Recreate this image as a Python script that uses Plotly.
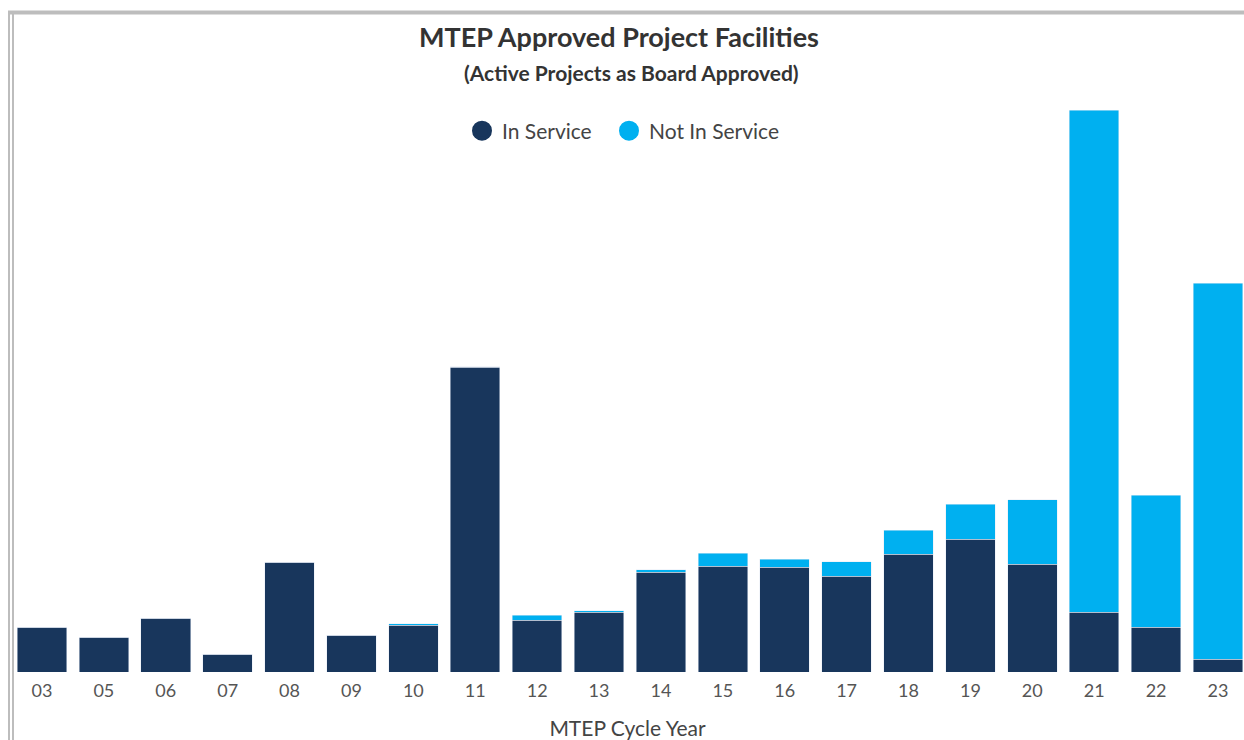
import plotly.graph_objects as go

years = ["03", "05", "06", "07", "08", "09", "10", "11", "12", "13",
         "14", "15", "16", "17", "18", "19", "20", "21", "22", "23"]
in_service = [45, 35, 54, 18, 110, 37, 47, 305, 52, 60,
              100, 106, 105, 96, 118, 133, 108, 60, 45, 13]
not_in_service = [0, 0, 0, 0, 0, 0, 1.5, 0.5, 4.7, 1.3,
                  2.4, 12.7, 8, 14.4, 23.7, 34.7, 64.3, 502, 131.7, 375.7]

DARK = "#18365C"
LIGHT = "#00B0F0"
FONT = "Lato"

W, H = 1244, 740
ML, MR, MT, MB = 11, 0, 100, 68
plot_w = W - ML - MR
plot_h = H - MT - MB


def px_x(px):
    return (px - ML) / plot_w


def px_y(py):
    return (H - MB - py) / plot_h


fig = go.Figure()
fig.add_trace(go.Bar(x=years, y=in_service, marker_color=DARK, name="In Service",
                     showlegend=False))
fig.add_trace(go.Bar(x=years, y=not_in_service, marker_color=LIGHT, name="Not In Service",
                     showlegend=False))
fig.add_trace(go.Scatter(x=[None], y=[None], mode="markers", name="In Service",
                         legend="legend",
                         marker=dict(symbol="circle", size=16, color=DARK,
                                     line=dict(color=DARK, width=4))))
fig.add_trace(go.Scatter(x=[None], y=[None], mode="markers", name="Not In Service",
                         legend="legend2",
                         marker=dict(symbol="circle", size=16, color=LIGHT,
                                     line=dict(color=LIGHT, width=4))))

legend_common = dict(orientation="h", xanchor="left", y=px_y(131), yanchor="middle",
                     font=dict(size=21, color="#444444"), itemsizing="trace",
                     bgcolor="rgba(0,0,0,0)")

fig.update_layout(
    width=W, height=H,
    barmode="stack", bargap=0.2,
    margin=dict(l=ML, r=MR, t=MT, b=MB, autoexpand=False),
    paper_bgcolor="white", plot_bgcolor="white",
    font=dict(family=FONT, color="#444444"),
    showlegend=True,
    legend=dict(x=px_x(462), **legend_common),
    legend2=dict(x=px_x(609), **legend_common),
    xaxis=dict(type="category", range=[-0.5, 19.42], showgrid=False, zeroline=False,
               showline=False, ticks="", automargin=False, ticklabelstandoff=6,
               tickfont=dict(size=18, color="#555555"),
               title=dict(text="MTEP Cycle Year", font=dict(size=21, color="#444444"),
                          standoff=26)),
    yaxis=dict(range=[0, plot_h], visible=False, showgrid=False, automargin=False),
    annotations=[
        dict(text="<b>MTEP Approved Project Facilities</b>", xref="paper", yref="paper",
             x=px_x(619), y=px_y(36), yanchor="middle", showarrow=False,
             font=dict(size=27, color="#333333", family=FONT)),
        dict(text="<b>(Active Projects as Board Approved)</b>", xref="paper", yref="paper",
             x=px_x(631), y=px_y(73), yanchor="middle", showarrow=False,
             font=dict(size=21, color="#333333", family=FONT)),
    ],
)
fig.add_shape(type="line", xref="paper", yref="paper", x0=px_x(8), x1=px_x(1244),
              y0=px_y(12.5), y1=px_y(12.5), line=dict(color="#BDBDBD", width=4))
fig.add_shape(type="line", xref="paper", yref="paper", x0=px_x(9), x1=px_x(9),
              y0=px_y(11), y1=px_y(740), line=dict(color="#BDBDBD", width=2))
fig.add_shape(type="line", xref="paper", yref="paper", x0=px_x(13), x1=px_x(13),
              y0=px_y(14), y1=px_y(740), line=dict(color="#BDBDBD", width=2))

fig.write_html("out.html", config={"displayModeBar": False},
               post_script="document.body.style.margin='0';document.body.style.overflow='hidden';")
